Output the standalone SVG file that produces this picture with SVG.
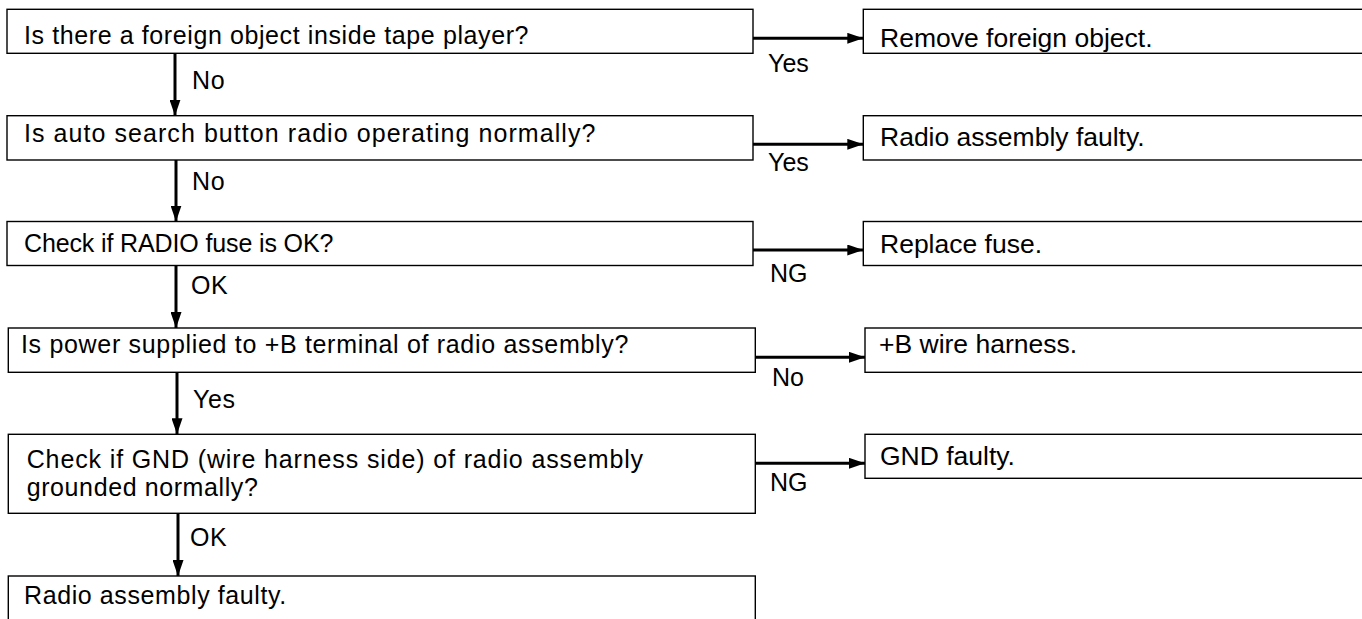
<svg xmlns="http://www.w3.org/2000/svg" width="1362" height="619" viewBox="0 0 1362 619">
<style>
  .box { fill: #fff; stroke: #000; stroke-width: 1.4; }
  .q { font-family: "Liberation Sans", Arial, sans-serif; font-size: 25px; letter-spacing: 0.6px; fill: #000; }
  .r { font-family: "Liberation Sans", Arial, sans-serif; font-size: 26.5px; fill: #000; }
  .lbl { font-family: "Liberation Sans", Arial, sans-serif; font-size: 25px; fill: #000; }
  .vl { font-family: "Liberation Sans", Arial, sans-serif; font-size: 25px; letter-spacing: 0.6px; fill: #000; }
  .edge { stroke: #000; stroke-width: 3; fill: none; marker-end: url(#ah); }
</style>
<defs>
  <marker id="ah" markerUnits="userSpaceOnUse" markerWidth="17" markerHeight="11" refX="16" refY="5.5" orient="auto">
    <path d="M0,0 L16,5.5 L0,11 z" fill="#000"/>
  </marker>
</defs>
<rect width="1362" height="619" fill="#fff"/>

<g id="q1"><rect class="box" x="7" y="9.3" width="746" height="44"/><text class="q" x="24" y="44">Is there a foreign object inside tape player?</text></g>
<g id="r1"><rect class="box" x="863.3" y="9.3" width="510" height="44"/><text class="r" x="880" y="46.5">Remove foreign object.</text></g>

<g id="q2"><rect class="box" x="7" y="115.7" width="746" height="44.3"/><text class="q" x="24" y="142" textLength="572" lengthAdjust="spacing">Is auto search button radio operating normally?</text></g>
<g id="r2"><rect class="box" x="863.3" y="115.7" width="510" height="44.3"/><text class="r" x="880" y="146">Radio assembly faulty.</text></g>

<g id="q3"><rect class="box" x="7" y="221.5" width="746" height="44"/><text class="q" x="24" y="252" textLength="310" lengthAdjust="spacing">Check if RADIO fuse is OK?</text></g>
<g id="r3"><rect class="box" x="863.3" y="221.5" width="510" height="44"/><text class="r" x="880" y="253">Replace fuse.</text></g>

<g id="q4"><rect class="box" x="8.3" y="328" width="747" height="44.3"/><text class="q" x="21" y="353" textLength="608" lengthAdjust="spacing">Is power supplied to +B terminal of radio assembly?</text></g>
<g id="r4"><rect class="box" x="865" y="328" width="510" height="44.3"/><text class="r" x="879" y="353">+B wire harness.</text></g>

<g id="q5"><rect class="box" x="8.3" y="434.3" width="747" height="79"/><text class="q" x="26.7" y="468" textLength="617" lengthAdjust="spacing">Check if GND (wire harness side) of radio assembly</text><text class="q" x="26.7" y="496">grounded normally?</text></g>
<g id="r5"><rect class="box" x="865" y="434.3" width="510" height="44"/><text class="r" x="880" y="465">GND faulty.</text></g>

<g id="q6"><rect class="box" x="8.3" y="576" width="747" height="60"/><text class="q" x="24" y="604">Radio assembly faulty.</text></g>

<g id="connectors">
  <line class="edge" x1="753" y1="38.3" x2="863.3" y2="38.3"/>
  <line class="edge" x1="753" y1="144.3" x2="863.3" y2="144.3"/>
  <line class="edge" x1="753" y1="250" x2="863.3" y2="250"/>
  <line class="edge" x1="755.3" y1="357.3" x2="865" y2="357.3"/>
  <line class="edge" x1="755.3" y1="463.3" x2="865" y2="463.3"/>
  <line class="edge" x1="175" y1="53.3" x2="175" y2="115.7"/>
  <line class="edge" x1="176" y1="160" x2="176" y2="221.5"/>
  <line class="edge" x1="176" y1="265.5" x2="176" y2="328"/>
  <line class="edge" x1="177" y1="372.3" x2="177" y2="434.3"/>
  <line class="edge" x1="178" y1="513.3" x2="178" y2="576"/>
  <text class="lbl" x="768" y="71.5">Yes</text>
  <text class="lbl" x="768" y="171">Yes</text>
  <text class="lbl" x="770" y="282">NG</text>
  <text class="lbl" x="772" y="385.5">No</text>
  <text class="lbl" x="770" y="491">NG</text>
  <text class="vl" x="192" y="89">No</text>
  <text class="vl" x="192" y="190">No</text>
  <text class="vl" x="191" y="294">OK</text>
  <text class="vl" x="193" y="408">Yes</text>
  <text class="vl" x="190" y="546">OK</text>
</g>
</svg>
